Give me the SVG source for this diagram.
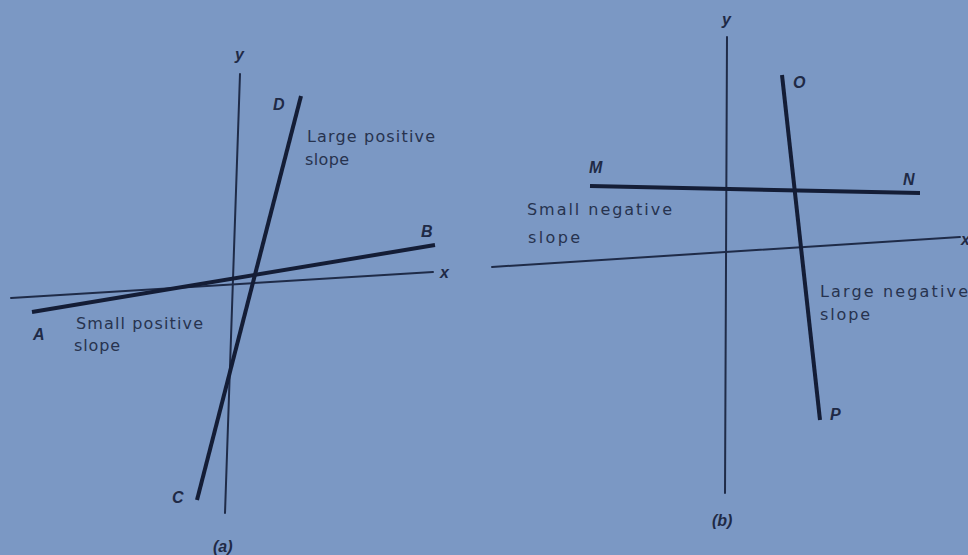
<svg xmlns="http://www.w3.org/2000/svg" width="968" height="555" viewBox="0 0 968 555">
<style>
.bg{fill:#7b98c4}
.axis{stroke:#1f2b48;stroke-width:2;fill:none;stroke-linecap:round}
.line{stroke:#141d36;stroke-width:4;fill:none;stroke-linecap:butt}
.lbl{font-family:"DejaVu Sans","Liberation Sans",sans-serif;font-size:16px;fill:#27334f}
.pt{font-family:"Liberation Sans",Arial,sans-serif;font-style:italic;font-weight:bold;font-size:16px;fill:#1f2a46}
</style>
<rect class="bg" x="0" y="0" width="968" height="555"/>
<g id="connectors">
  <line class="axis" x1="240" y1="74" x2="225" y2="513"/>
  <line class="axis" x1="11" y1="298" x2="433" y2="272"/>
  <line class="line" x1="32" y1="312" x2="435" y2="245"/>
  <line class="line" x1="197" y1="500" x2="301" y2="96"/>
  <line class="axis" x1="727" y1="37" x2="725" y2="493"/>
  <line class="axis" x1="492" y1="267" x2="960" y2="237"/>
  <line class="line" x1="590" y1="186" x2="920" y2="193"/>
  <line class="line" x1="782" y1="75" x2="820" y2="420"/>
</g>
<g id="panel-a-labels">
  <text class="pt" x="235" y="60">y</text>
  <text class="pt" x="440" y="278">x</text>
  <text class="pt" x="273" y="110">D</text>
  <text class="pt" x="421" y="237">B</text>
  <text class="pt" x="33" y="340">A</text>
  <text class="pt" x="172" y="503">C</text>
  <text class="pt" x="213" y="552">(a)</text>
  <text class="lbl" x="307" y="142" textLength="128" lengthAdjust="spacing">Large positive</text>
  <text class="lbl" x="305" y="165" textLength="44" lengthAdjust="spacing">slope</text>
  <text class="lbl" x="76" y="329" textLength="127" lengthAdjust="spacing">Small positive</text>
  <text class="lbl" x="74" y="351" textLength="46" lengthAdjust="spacing">slope</text>
</g>
<g id="panel-b-labels">
  <text class="pt" x="722" y="25">y</text>
  <text class="pt" x="961" y="245">x</text>
  <text class="pt" x="793" y="88">O</text>
  <text class="pt" x="589" y="173">M</text>
  <text class="pt" x="903" y="185">N</text>
  <text class="pt" x="830" y="420">P</text>
  <text class="pt" x="712" y="526">(b)</text>
  <text class="lbl" x="527" y="215" textLength="145" lengthAdjust="spacing">Small negative</text>
  <text class="lbl" x="528" y="243" textLength="52" lengthAdjust="spacing">slope</text>
  <text class="lbl" x="820" y="297" textLength="148" lengthAdjust="spacing">Large negative</text>
  <text class="lbl" x="820" y="320" textLength="50" lengthAdjust="spacing">slope</text>
</g>
</svg>
